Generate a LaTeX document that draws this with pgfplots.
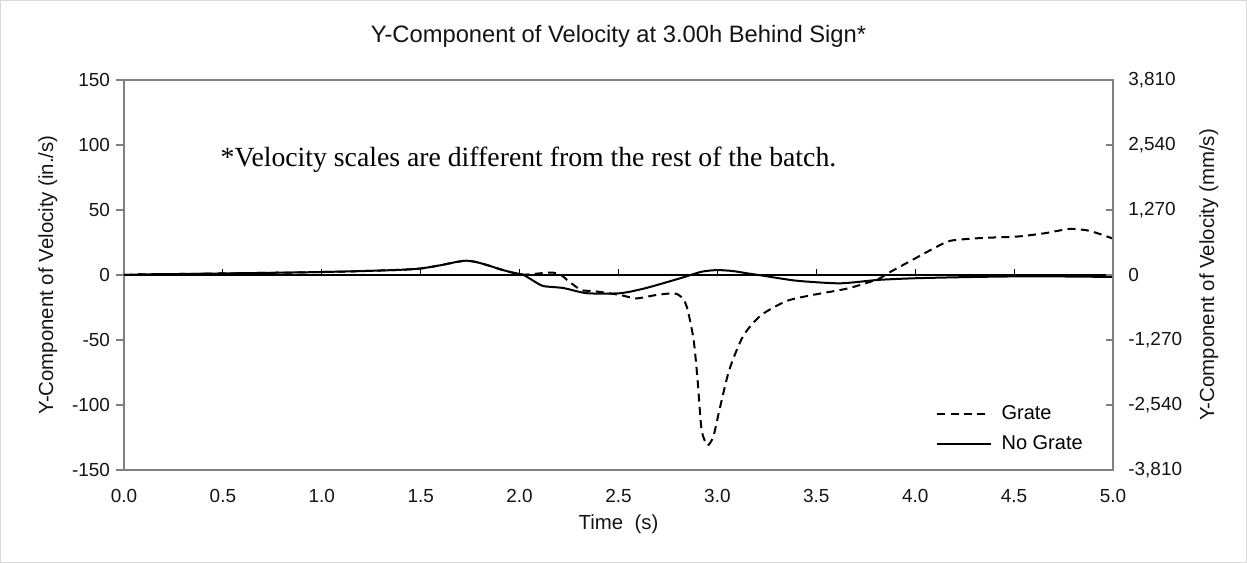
\documentclass[border=0pt]{standalone}
\usepackage{pgfplots}
\pgfplotsset{compat=1.18}
\usepackage{fontspec}
\setmainfont{Liberation Sans}
\newfontfamily\notefont{Liberation Serif}
\definecolor{boxgray}{RGB}{128,128,128}
\definecolor{txt}{RGB}{20,20,20}

\begin{document}
\begin{tikzpicture}
  % page frame, 1247 x 563 px at 0.75pt/px
  \draw[gray!30, line width=0.8pt] (0.4pt,-0.4pt) rectangle (934.85pt,-421.85pt);

  \begin{axis}[
    at={(93pt,-60pt)}, anchor=north west,
    scale only axis, width=741.75pt, height=292.5pt,
    xmin=0, xmax=5, ymin=-150, ymax=150,
    axis line style={boxgray, line width=0.8pt},
    xtick={0,0.5,...,5},
    xticklabels={0.0,0.5,1.0,1.5,2.0,2.5,3.0,3.5,4.0,4.5,5.0},
    x tick style={draw=none},
    ytick={-150,-100,...,150},
    yticklabels={-150,-100,-50,0,50,100,150},
    ytick pos=left,
    y tick style={boxgray, line width=0.8pt},
    tick align=outside,
    major tick length=6pt,
    tick label style={font=\fontsize{14.2}{16}\selectfont, text=txt},
    xticklabel style={yshift=-5pt},
    yticklabel style={xshift=-1pt},
    xlabel={Time\ \ (s)},
    ylabel={Y-Component of Velocity (in./s)},
    label style={font=\fontsize{15.3}{17}\selectfont, text=txt},
    xlabel style={at={(axis description cs:0.5,-0.14)}, anchor=center},
    ylabel style={at={(axis description cs:-0.077,0.5)}, anchor=center, rotate=0},
    title={Y-Component of Velocity at 3.00h Behind Sign*},
    title style={at={(axis description cs:0.5,1.092)}, anchor=center,
      font=\fontsize{17.8}{20}\selectfont, text=txt},
    legend style={at={(axis description cs:0.821,0.167)}, anchor=north west,
      draw=none, fill=none, font=\fontsize{15}{17}\selectfont,
      inner sep=0pt, column sep=7.5pt, row sep=8.5pt,
      nodes={inner sep=0pt, text height=11pt, text depth=3pt}},
    legend cell align=left,
    legend image code/.code={\draw[#1] (0pt,0pt) -- (40pt,0pt);},
    clip=false,
  ]
    % zero line with its ticks
    \draw[black, line width=0.9pt] (axis cs:0,0) -- (axis cs:5,0);
    \pgfplotsinvokeforeach{0.5,1.0,1.5,2.0,2.5,3.0,3.5,4.0,4.5}{
      \draw[black, line width=0.8pt] (axis cs:#1,0) -- (axis cs:#1,4.6);
    }

    \addplot[black, line width=1.5pt, dash pattern=on 6pt off 4pt, smooth, tension=0.4] coordinates {
      (0,0) (0.1,0.5) (0.3,0.8) (0.55,1.3) (0.8,1.8) (1.0,2.3) (1.2,3) (1.4,4)
      (1.5,5) (1.6,7.5) (1.68,10) (1.73,11) (1.78,10) (1.85,7) (1.9,4.5)
      (1.96,2) (2.02,0.3) (2.07,0.8) (2.12,1.5) (2.17,1.8) (2.21,0) (2.24,-3.8)
      (2.31,-11.5) (2.37,-12.3) (2.45,-14) (2.51,-15.4) (2.59,-18) (2.69,-15.4)
      (2.78,-14) (2.81,-16) (2.83,-19) (2.85,-27) (2.88,-50) (2.90,-81)
      (2.92,-119) (2.95,-131) (2.98,-124) (3.01,-104) (3.06,-73) (3.13,-47)
      (3.22,-31) (3.35,-20) (3.48,-15.4) (3.66,-10.3) (3.81,-3.3) (3.87,2)
      (4.01,13.6) (4.1,21) (4.18,26.4) (4.34,28.5) (4.51,29.5) (4.65,32)
      (4.78,35.4) (4.88,34) (5.0,28)
    };
    \addlegendentry{Grate}

    \addplot[black, line width=1.5pt, smooth, tension=0.4] coordinates {
      (0,0) (0.1,0.5) (0.3,0.8) (0.55,1.3) (0.8,1.8) (1.0,2.3) (1.2,3) (1.4,4)
      (1.5,5) (1.6,7.5) (1.68,10) (1.73,11) (1.78,10) (1.85,7) (1.9,4.5)
      (1.96,2) (2.02,0) (2.07,-4.5) (2.12,-8.5) (2.22,-10) (2.34,-14)
      (2.51,-14) (2.64,-10) (2.81,-2.6) (2.92,2.5) (3.00,3.8) (3.08,3)
      (3.15,1.3) (3.23,-0.5) (3.40,-4.4) (3.62,-6.4) (3.81,-3.8) (4.0,-2.5)
      (4.3,-1.5) (4.6,-1) (5.0,-1.5)
    };
    \addlegendentry{No Grate}

    \node[anchor=west, font=\notefont\fontsize{20.8}{23}\selectfont, text=black]
      at (axis cs:0.465,89) {*Velocity scales are different from the rest of the batch.};
  \end{axis}

  \begin{axis}[
    at={(93pt,-60pt)}, anchor=north west,
    scale only axis, width=741.75pt, height=292.5pt,
    xmin=0, xmax=5, ymin=-3810, ymax=3810,
    axis x line=none,
    axis y line*=right,
    axis line style={boxgray, line width=0.8pt},
    ytick={-3810,-2540,-1270,0,1270,2540,3810},
    yticklabels={{-3,810},{-2,540},{-1,270},0,{1,270},{2,540},{3,810}},
    y tick style={boxgray, line width=0.8pt},
    tick align=inside,
    major tick length=5pt,
    tick label style={font=\fontsize{14.2}{16}\selectfont, text=txt},
    yticklabel style={xshift=8pt},
    ylabel={Y-Component of Velocity (mm/s)},
    label style={font=\fontsize{15.3}{17}\selectfont, text=txt},
    ylabel style={at={(axis description cs:1.097,0.5)}, anchor=center, rotate=0},
  ]
    \addplot[draw=none, forget plot] coordinates {(0,0) (5,0)};
  \end{axis}
\end{tikzpicture}
\end{document}
